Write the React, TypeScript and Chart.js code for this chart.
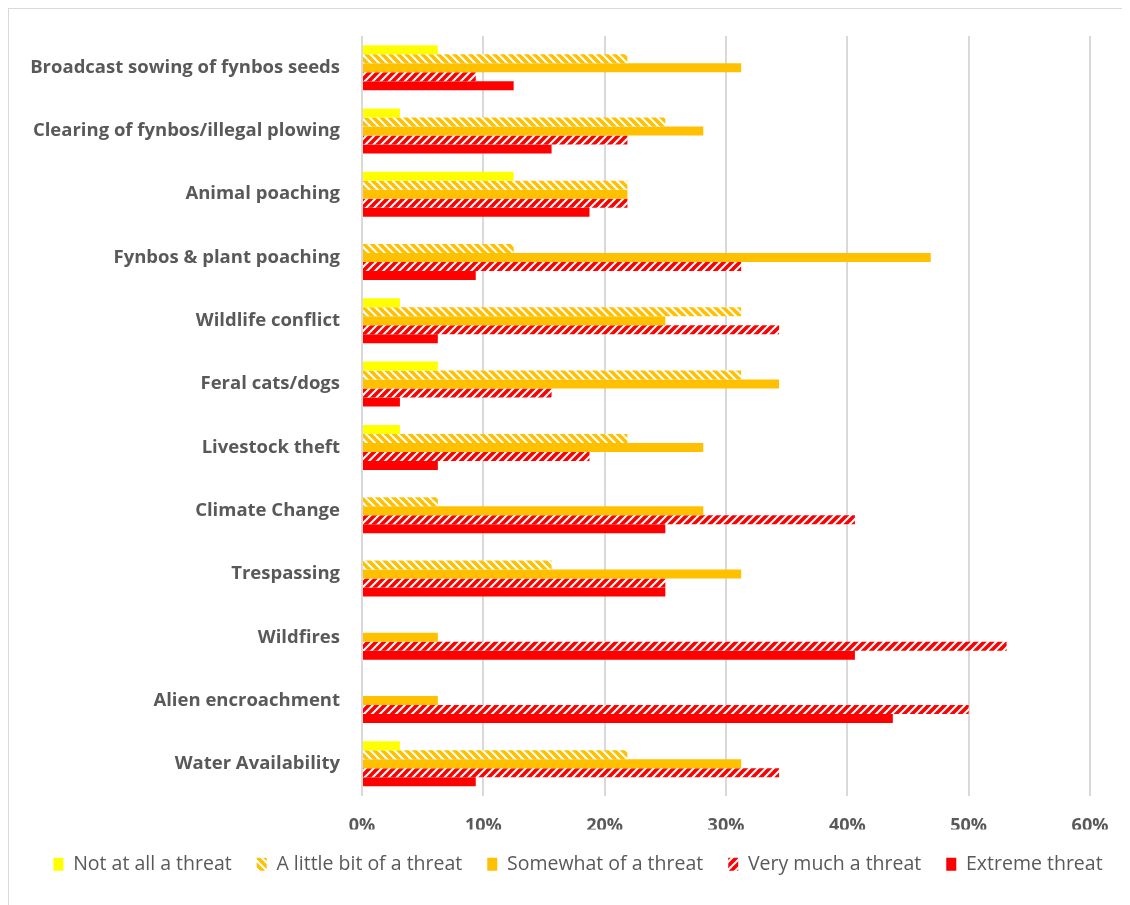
import React, { useEffect, useRef } from "react";
import { Chart, registerables } from "chart.js";

Chart.register(...registerables);

const categories = [
  "Broadcast sowing of fynbos seeds",
  "Clearing of fynbos/illegal plowing",
  "Animal poaching",
  "Fynbos & plant poaching",
  "Wildlife conflict",
  "Feral cats/dogs",
  "Livestock theft",
  "Climate Change",
  "Trespassing",
  "Wildfires",
  "Alien encroachment",
  "Water Availability",
];

const seriesNames = [
  "Not at all a threat",
  "A little bit of a threat",
  "Somewhat of a threat",
  "Very much a threat",
  "Extreme threat",
];

const notAtAll = [6.25, 3.125, 12.5, 0, 3.125, 6.25, 3.125, 0, 0, 0, 0, 3.125];
const littleBit = [21.875, 25, 21.875, 12.5, 31.25, 31.25, 21.875, 6.25, 15.625, 0, 0, 21.875];
const somewhat = [31.25, 28.125, 21.875, 46.875, 25, 34.375, 28.125, 28.125, 31.25, 6.25, 6.25, 31.25];
const veryMuch = [9.375, 21.875, 21.875, 31.25, 34.375, 15.625, 18.75, 40.625, 25, 53.125, 50, 34.375];
const extreme = [12.5, 15.625, 18.75, 9.375, 6.25, 3.125, 6.25, 25, 25, 40.625, 43.75, 9.375];

const xTicks = [0, 10, 20, 30, 40, 50, 60];

const YELLOW = "#FFFF00";
const ORANGE = "#FFC000";
const RED = "#FF0000";
const TEXT = "#595959";
const GRID = "#d9d9d9";
const FONT = "'Open Sans', 'Liberation Sans', sans-serif";

function makePattern(color: string, dir: "down" | "up"): CanvasPattern | string {
  const size = 8;
  const c = document.createElement("canvas");
  c.width = size;
  c.height = size;
  const ctx = c.getContext("2d");
  if (!ctx) return color;
  ctx.fillStyle = "#ffffff";
  ctx.fillRect(0, 0, size, size);
  ctx.strokeStyle = color;
  ctx.lineWidth = 3.6;
  ctx.lineCap = "square";
  for (const k of [-size, 0, size]) {
    ctx.beginPath();
    if (dir === "down") {
      ctx.moveTo(k - 2, -2);
      ctx.lineTo(k + size + 2, size + 2);
    } else {
      ctx.moveTo(k - 2, size + 2);
      ctx.lineTo(k + size + 2, -2);
    }
    ctx.stroke();
  }
  const p = ctx.createPattern(c, "repeat");
  return p || color;
}

export default function App() {
  const ref = useRef<HTMLCanvasElement | null>(null);

  useEffect(() => {
    if (!ref.current) return;
    const orangeHatch = makePattern(ORANGE, "down");
    const redHatch = makePattern(RED, "up");
    const values = [notAtAll, littleBit, somewhat, veryMuch, extreme];
    const fills = [YELLOW, orangeHatch, ORANGE, redHatch, RED];

    const chart = new Chart(ref.current, {
      type: "bar",
      data: {
        labels: categories,
        datasets: values.map((v, i) => ({
          label: seriesNames[i],
          data: v,
          backgroundColor: fills[i] as any,
          borderWidth: 0,
          categoryPercentage: 0.711,
          barPercentage: 1,
        })),
      },
      options: {
        indexAxis: "y",
        animation: false,
        responsive: false,
        maintainAspectRatio: false,
        layout: { padding: { top: 27, right: 0, left: 17, bottom: 21 } },
        plugins: {
          tooltip: { enabled: false },
          legend: {
            position: "bottom",
            labels: {
              boxWidth: 10,
              boxHeight: 13,
              padding: 25,
              color: TEXT,
              font: { family: FONT, size: 19.5 },
            },
          },
        },
        scales: {
          x: {
            min: 0,
            max: 60,
            afterBuildTicks: (scale: any) => {
              scale.ticks = xTicks.map((v) => ({ value: v }));
            },
            afterFit: (scale: any) => {
              scale.height = 34;
              scale.paddingLeft = 0;
              scale.paddingRight = 40;
            },
            grid: { color: GRID, lineWidth: 2, drawTicks: false },
            border: { display: false },
            ticks: {
              color: TEXT,
              padding: 20,
              font: { family: FONT, size: 18, weight: "bold" },
              callback: (v: any) => v + "%",
            },
          },
          y: {
            afterFit: (scale: any) => {
              scale.width = 336;
              scale.paddingTop = 0;
              scale.paddingBottom = 0;
            },
            grid: { display: false, drawTicks: false },
            border: { display: false },
            ticks: {
              color: TEXT,
              padding: 22,
              autoSkip: false,
              font: { family: FONT, size: 18.5, weight: "bold" },
            },
          },
        },
      },
    });
    return () => chart.destroy();
  }, []);

  return (
    <div
      style={{
        width: 1121,
        height: 896,
        borderTop: `1px solid ${GRID}`,
        borderLeft: `1px solid ${GRID}`,
        background: "#ffffff",
      }}
    >
      <canvas ref={ref} width={1121} height={896} style={{ display: "block" }} />
    </div>
  );
}
